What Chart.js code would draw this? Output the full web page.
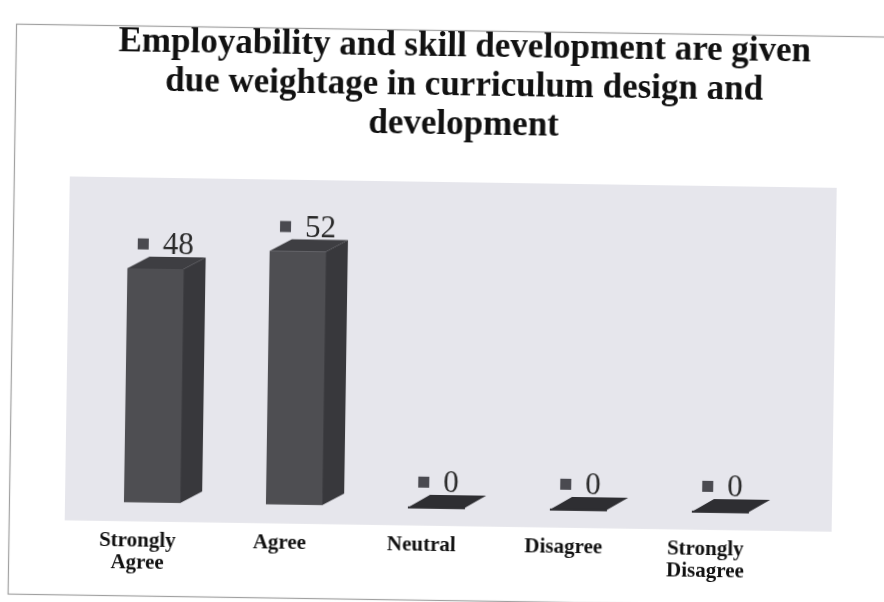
<!DOCTYPE html>
<html>
<head>
<meta charset="utf-8">
<script src="https://cdn.jsdelivr.net/npm/chart.js@4.4.1/dist/chart.umd.min.js"></script>
<style>
  html, body { margin: 0; padding: 0; background: #fff; overflow: hidden; }
  #wrap { width: 884px; height: 602px; transform: rotate(0.85deg); transform-origin: 442px 301px; }
</style>
</head>
<body>
<div id="wrap"><canvas id="surveyChart"></canvas></div>
<script>
const categories = [['Strongly', 'Agree'], 'Agree', 'Neutral', 'Disagree', ['Strongly', 'Disagree']];
const responses = [48, 52, 0, 0, 0];
const titleLines = [
    'Employability and skill development are given',
    'due weightage in curriculum design and',
    'development'
];

// depth of the fake 3d box
const DX = 22, DY = 12;

const backdrop = {
    id: 'backdrop',
    beforeDraw(chart) {
        const c = chart.ctx;
        const a = chart.chartArea;
        c.save();
        c.fillStyle = '#ffffff';
        c.fillRect(0, 0, chart.width, chart.height);
        // scanned frame
        c.strokeStyle = '#a0a0a0';
        c.lineWidth = 1.2;
        c.strokeRect(12.5, 30.5, 900, 570);
        // gray wall behind the bars
        c.fillStyle = '#e6e6ec';
        c.fillRect(a.left - 16, a.top - 8, a.right - a.left + 57, a.bottom - a.top + 27);
        c.restore();
    },
    afterDraw(chart) {
        // title, centred a bit right of the plot like the original slide
        const c = chart.ctx;
        c.save();
        c.fillStyle = '#111';
        c.font = 'bold 35px "Liberation Serif", serif';
        c.textAlign = 'center';
        c.textBaseline = 'middle';
        titleLines.forEach((t, i) => c.fillText(t, 461, 47 + i * 39));
        c.restore();
    }
};

const boxes = {
    id: 'boxes',
    afterDatasetsDraw(chart) {
        const c = chart.ctx;
        const meta = chart.getDatasetMeta(0);
        c.save();
        meta.data.forEach((bar, i) => {
            const p = bar.getProps(['x', 'y', 'base', 'width'], true);
            const l = p.x - p.width / 2, r = p.x + p.width / 2;
            const top = p.y, bot = p.base;
            const tall = bot - top > 1;
            if (tall) {
                // front
                c.fillStyle = '#4e4e52';
                c.fillRect(l, top, r - l, bot - top);
                // side
                c.fillStyle = '#38383c';
                c.beginPath();
                c.moveTo(r, top);
                c.lineTo(r + DX, top - DY);
                c.lineTo(r + DX, bot - DY);
                c.lineTo(r, bot);
                c.closePath();
                c.fill();
            }
            // top face
            c.fillStyle = tall ? '#3e3e42' : '#2e2e32';
            c.beginPath();
            c.moveTo(l, top + (tall ? 0 : 1));
            c.lineTo(l + DX, top - DY);
            c.lineTo(r + DX, top - DY);
            c.lineTo(r, top + (tall ? 0 : 1));
            c.closePath();
            c.fill();
            if (!tall) {
                c.fillRect(l, top, r - l + 1, 2);
            }
            // value label with legend key
            const ly = top - 24;
            c.fillStyle = '#4a4a50';
            c.fillRect(l + 10, ly - 6, 11, 11);
            c.fillStyle = '#2a2a2a';
            c.font = '31px "Liberation Serif", serif';
            c.textBaseline = 'middle';
            c.textAlign = 'left';
            c.fillText(String(responses[i]), l + 35, ly + 1);
        });
        c.restore();
    }
};

const ctx = document.getElementById('surveyChart');

new Chart(ctx, {
    type: 'bar',
    data: {
        labels: categories,
        datasets: [{
            data: responses,
            backgroundColor: 'rgba(0,0,0,0)',
            borderWidth: 0,
            barPercentage: 0.395,
            categoryPercentage: 1
        }]
    },
    options: {
        responsive: true,
        maintainAspectRatio: false,
        animation: false,
        layout: { padding: { left: 84, right: 90, top: 190, bottom: 3 } },
        plugins: {
            legend: { display: false },
            tooltip: { enabled: false },
            title: { display: false }
        },
        scales: {
            x: {
                grid: { display: false },
                border: { display: false },
                ticks: {
                    color: '#111',
                    font: { family: '"Liberation Serif", serif', size: 21, weight: 'bold', lineHeight: 1.05 },
                    padding: 20,
                    labelOffset: -14,
                    maxRotation: 0,
                    autoSkip: false
                }
            },
            y: {
                display: false,
                min: 0,
                max: 65
            }
        }
    },
    plugins: [backdrop, boxes]
});
</script>
</body>
</html>
